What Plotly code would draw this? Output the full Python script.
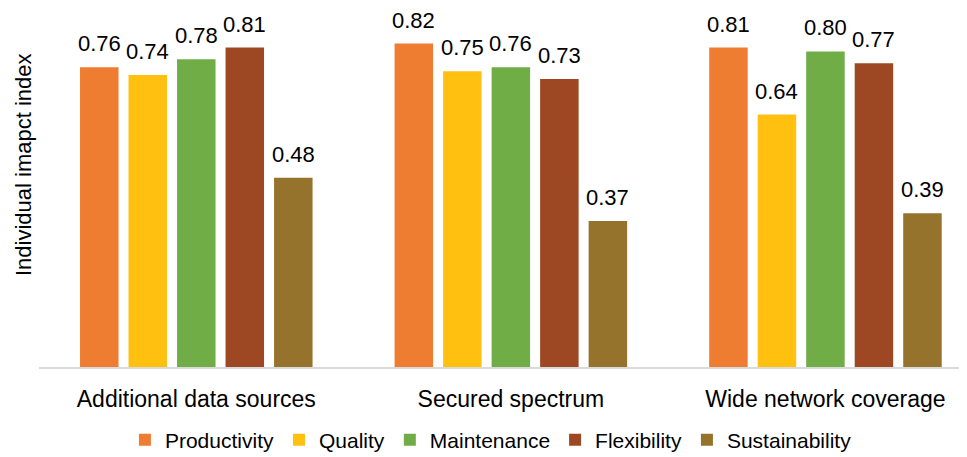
import plotly.graph_objects as go

categories = ["Additional data sources", "Secured spectrum", "Wide network coverage"]
series_names = ["Productivity", "Quality", "Maintenance", "Flexibility", "Sustainability"]
productivity = [0.76, 0.82, 0.81]
quality = [0.74, 0.75, 0.64]
maintenance = [0.78, 0.76, 0.80]
flexibility = [0.81, 0.73, 0.77]
sustainability = [0.48, 0.37, 0.39]
colors = ["#EE7D32", "#FFC010", "#70AD47", "#9E4823", "#95732D"]

series_values = [productivity, quality, maintenance, flexibility, sustainability]

FONT = "Liberation Sans, Arial, sans-serif"
pitch = 0.1542
bar_w = 0.1224

fig = go.Figure()
annotations = []
for k, (name, vals, col) in enumerate(zip(series_names, series_values, colors)):
    off = (k - 2) * pitch - bar_w / 2
    fig.add_trace(go.Bar(
        x=list(range(len(categories))), y=vals, name=name,
        width=bar_w, offset=off,
        marker=dict(color=col, line=dict(width=0)),
        hoverinfo="name+y",
    ))
    for i, v in enumerate(vals):
        annotations.append(dict(
            x=i + off + bar_w / 2, y=v, xref="x", yref="y",
            text=f"{v:.2f}", showarrow=False, yanchor="bottom", yshift=9,
            font=dict(family=FONT, size=22, color="#000000"),
        ))

annotations.append(dict(
    x=-0.0172, y=0.569, xref="paper", yref="paper", text="Individual imapct index",
    textangle=-90, showarrow=False, xanchor="center", yanchor="middle",
    font=dict(family=FONT, size=22, color="#000000"),
))

fig.update_layout(
    width=967, height=457,
    margin=dict(l=31, r=8, t=4, b=98, autoexpand=False),
    paper_bgcolor="white", plot_bgcolor="white",
    barmode="overlay",
    font=dict(family=FONT, color="#000000"),
    showlegend=True,
    legend=dict(orientation="h", x=0.487, xanchor="center", y=-0.2056, yanchor="middle",
                font=dict(size=21), traceorder="normal", itemclick=False),
    xaxis=dict(range=[-0.5, 2.45], showline=True, linecolor="#d9d9d9", linewidth=2,
               tickmode="array", tickvals=list(range(len(categories))), ticktext=categories,
               tickfont=dict(size=23), ticks="", ticklabelstandoff=10, showgrid=False,
               zeroline=False, fixedrange=True, automargin=False),
    yaxis=dict(range=[0, 0.9], showticklabels=False, showgrid=False, zeroline=False,
               showline=False, ticks="", automargin=False),
    annotations=annotations,
)

fig.write_html("out.html")
